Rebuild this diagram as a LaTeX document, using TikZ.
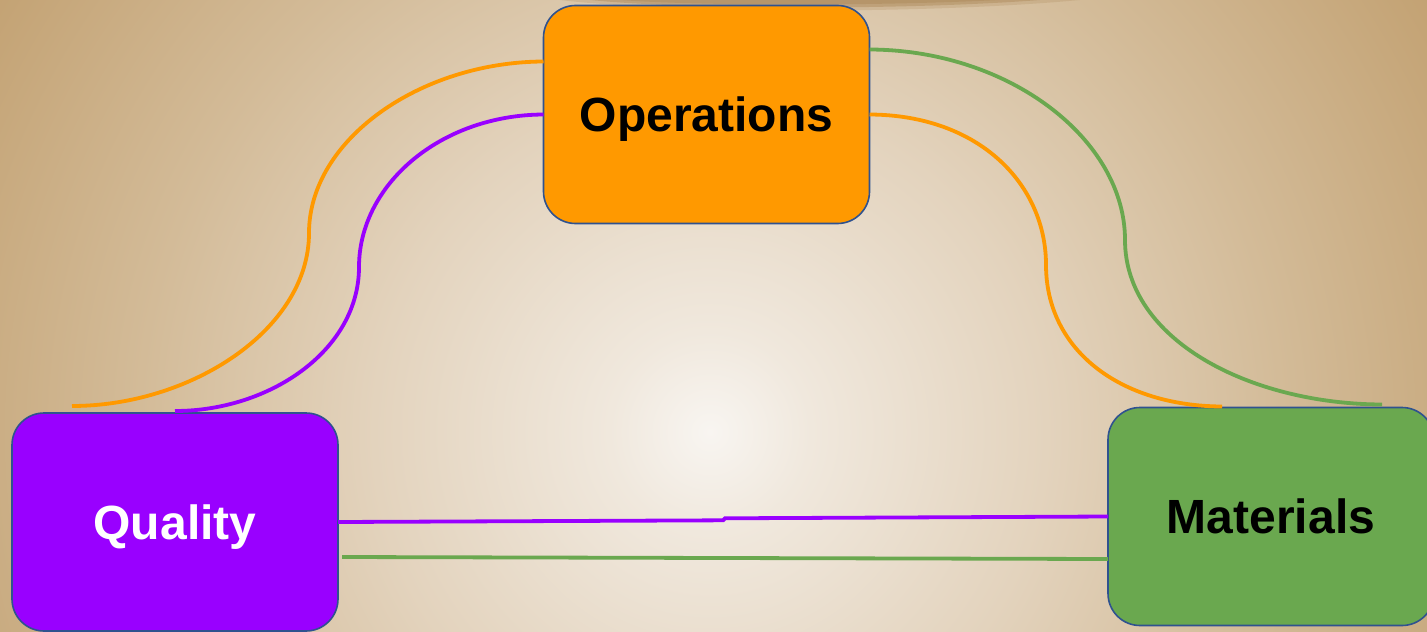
\documentclass[tikz,border=0pt]{standalone}
\usepackage{fontspec}
\setmainfont{Liberation Sans}
\usetikzlibrary{calc}
\definecolor{bgA}{HTML}{F8F5F1}
\definecolor{bgB}{HTML}{F0E8DD}
\definecolor{bgC}{HTML}{E3D3BD}
\definecolor{bgD}{HTML}{D3BB98}
\definecolor{bgE}{HTML}{C3A273}
\definecolor{shadowc}{HTML}{AC8858}
\definecolor{opsc}{HTML}{FF9900}
\definecolor{qualc}{HTML}{9900FF}
\definecolor{matc}{HTML}{6AA84F}
\definecolor{edgec}{HTML}{2F528F}
\pgfdeclareradialshading{bgshade}{\pgfpointorigin}{color(0bp)=(bgA); color(3bp)=(bgB); color(10bp)=(bgC); color(17bp)=(bgD); color(25bp)=(bgE); color(50bp)=(bgE)}
\tikzset{
  box/.style={draw=edgec, line width=0.8pt, rounded corners=16pt, minimum width=163pt, minimum height=109pt, inner sep=0pt, outer sep=0pt, font=\fontsize{24}{28}\selectfont\bfseries, text height=17.2pt, text depth=0pt},
  link/.style={line width=1.9pt},
}
\begin{document}
\begin{tikzpicture}[x=0.5pt,y=-0.5pt]
\useasboundingbox (0,0) rectangle (1427,631);
\begin{scope}
  \clip (0,0) rectangle (1427,631);
  \shade[shading=bgshade] (710,432) circle (840);
  \fill[shadowc, opacity=0.25] (560,0) .. controls (680,14) and (930,14) .. (1080,0) -- cycle;
  \fill[shadowc, opacity=0.45] (590,0) .. controls (690,10) and (910,10) .. (1040,0) -- cycle;
  \fill[shadowc, opacity=0.45] (620,0) .. controls (700,6) and (880,6) .. (1000,0) -- cycle;
\end{scope}

\node[box, fill=opsc, text=black] (ops) at (706.5,114.5) {Operations};
\node[box, fill=qualc, text=white] (qual) at (175,522) {Quality};
\node[box, fill=matc, text=black] (mat) at (1271,516.5) {Materials};

% free ends
\coordinate (qoEnd) at ($(qual.north west)+(60,-7)$);
\coordinate (mgEnd) at ($(mat.north west)+(274,-3)$);
\coordinate (moEnd) at ($(mat.north west)+(114,-1)$);

% Operations -> Quality (orange)
\draw[link, opsc] ($(ops.north west)+(0,56)$) .. controls (420,62) and (309,140) .. (309,233)
  .. controls (309,330) and (190,406) .. (qoEnd);
% Operations -> Quality (purple)
\draw[link, qualc] ($(ops.north west)+(0,109)$) .. controls (440,115) and (359,185) .. (359,267)
  .. controls (359,350) and (270,411) .. ($(qual.north)+(0,-2)$);
% Operations -> Materials (green)
\draw[link, matc] ($(ops.north east)+(0,44)$) .. controls (1010,50) and (1125,140) .. (1125,240)
  .. controls (1125,340) and (1250,404) .. (mgEnd);
% Operations -> Materials (orange)
\draw[link, opsc] ($(ops.north east)+(0,109)$) .. controls (980,115) and (1046,185) .. (1046,265)
  .. controls (1046,350) and (1120,406) .. (moEnd);
% Quality -> Materials (purple)
\draw[link, qualc] (qual.east) -- (723,520.3) -- (725,518.3) -- (mat.west);
% Quality -> Materials (green)
\draw[link, matc] ($(qual.east)+(4,35)$) -- ($(mat.west)+(0,42.5)$);
\end{tikzpicture}
\end{document}
